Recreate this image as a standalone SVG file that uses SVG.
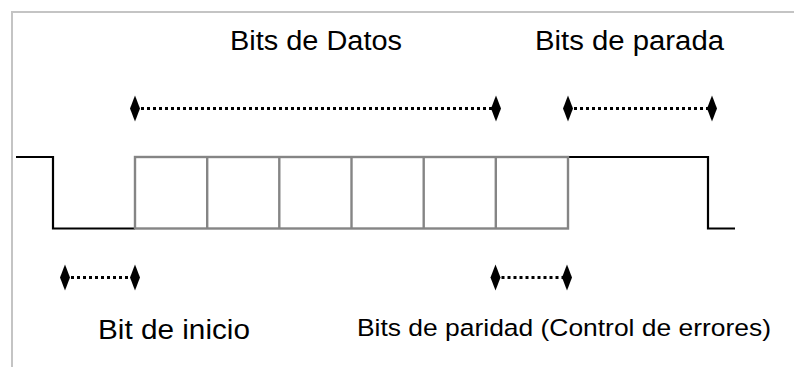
<svg xmlns="http://www.w3.org/2000/svg" width="794" height="367" viewBox="0 0 794 367">
<style>
.frame{fill:none;stroke:#c4c4c4;stroke-width:2}
.sig{fill:none;stroke:#000;stroke-width:2.2}
.box{fill:none;stroke:#858585;stroke-width:2.4}
.dot{fill:none;stroke:#000;stroke-width:3;stroke-dasharray:3 3}
.lbl{font-family:"Liberation Sans",Arial,sans-serif;fill:#000}
</style>
<defs>
<marker id="dia" markerUnits="userSpaceOnUse" markerWidth="12" markerHeight="28" viewBox="-6 -14 12 28" refX="0" refY="0" orient="auto">
<path d="M-5,0 L0,-13 L5,0 L0,13 Z" fill="#000"/>
</marker>
</defs>
<rect width="794" height="367" fill="#fff"/>
<path class="frame" d="M12,367 V12 H794"/>
<g id="signal">
<path class="sig" d="M16,157 H53 V228.5 H135"/>
<path class="sig" d="M568,157 H708 V228.5 H735"/>
</g>
<g id="data-bits">
<rect class="box" x="135" y="157" width="433" height="71.5"/>
<path class="box" d="M207.2,157 V228.5 M279.3,157 V228.5 M351.5,157 V228.5 M423.7,157 V228.5 M495.8,157 V228.5"/>
</g>
<g id="connectors">
<line class="dot" x1="135" y1="108.5" x2="496" y2="108.5" marker-start="url(#dia)" marker-end="url(#dia)"/>
<line class="dot" x1="568" y1="108.5" x2="712" y2="108.5" marker-start="url(#dia)" marker-end="url(#dia)"/>
<line class="dot" x1="65" y1="277.5" x2="135" y2="277.5" marker-start="url(#dia)" marker-end="url(#dia)"/>
<line class="dot" x1="495.5" y1="277.5" x2="567" y2="277.5" marker-start="url(#dia)" marker-end="url(#dia)"/>
</g>
<g id="label-datos"><text class="lbl" x="230" y="49.5" font-size="27" textLength="172" lengthAdjust="spacingAndGlyphs">Bits de Datos</text></g>
<g id="label-parada"><text class="lbl" x="535" y="49.5" font-size="27" textLength="189" lengthAdjust="spacingAndGlyphs">Bits de parada</text></g>
<g id="label-inicio"><text class="lbl" x="98" y="338.5" font-size="27" textLength="152" lengthAdjust="spacingAndGlyphs">Bit de inicio</text></g>
<g id="label-paridad"><text class="lbl" x="357" y="336" font-size="24.5" textLength="414" lengthAdjust="spacingAndGlyphs">Bits de paridad (Control de errores)</text></g>
</svg>
